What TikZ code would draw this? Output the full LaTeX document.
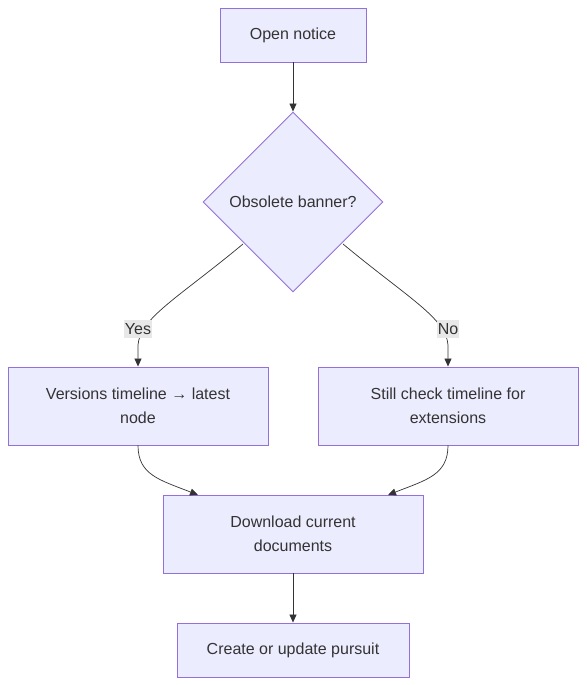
\documentclass[tikz,border=0pt]{standalone}
\usepackage{fontspec}
\setmainfont{Liberation Sans}
\usetikzlibrary{shapes.geometric,arrows.meta}
\definecolor{nodefill}{HTML}{ECECFF}
\definecolor{nodeline}{HTML}{9370DB}
\definecolor{txt}{HTML}{333333}
\definecolor{lblbg}{HTML}{E8E8E8}
\tikzset{
  box/.style={draw=nodeline,fill=nodefill,line width=0.9pt,inner sep=0pt,align=center,text=txt,font=\fontsize{16}{24}\selectfont},
  edge/.style={draw=txt,line width=0.7pt,-{Triangle[length=8pt,width=7pt]}},
  lbl/.style={fill=lblbg,text=txt,inner xsep=1pt,inner ysep=3pt,font=\fontsize{16}{20}\selectfont}
}
\begin{document}
\begin{tikzpicture}[x=1pt,y=-1pt]
\useasboundingbox (0,0) rectangle (586,685);
\node[box,minimum width=146pt,minimum height=54pt] (open) at (293,35) {Open notice};
\node[box,diamond,minimum width=180pt,minimum height=180pt] (obs) at (293,202) {Obsolete banner?};
\node[box,minimum width=260pt,minimum height=78pt] (ver) at (138,406) {Versions timeline → latest\\node};
\node[box,minimum width=260pt,minimum height=78pt] (still) at (448,406) {Still check timeline for\\extensions};
\node[box,minimum width=260pt,minimum height=78pt] (dl) at (293,534) {Download current\\documents};
\node[box,minimum width=232pt,minimum height=54pt] (cr) at (293,650) {Create or update pursuit};
\coordinate (dl1) at (198,495);
\coordinate (dl2) at (388,495);
\coordinate (ol) at (243,244);
\coordinate (or) at (343,244);
\draw[edge] (open) -- (obs);
\draw[edge] (ol) .. controls (178,298) and (140,318) .. (138,345) -- (ver.north);
\draw[edge] (or) .. controls (408,298) and (446,318) .. (448,345) -- (still.north);
\node[lbl] (yes) at (138,329) {Yes};
\node[lbl] (no) at (448,329) {No};
\draw[edge] (ver.south) .. controls (138,475) and (160,480) .. (dl1);
\draw[edge] (still.south) .. controls (448,475) and (426,480) .. (dl2);
\draw[edge] (dl) -- (cr);
\end{tikzpicture}
\end{document}
